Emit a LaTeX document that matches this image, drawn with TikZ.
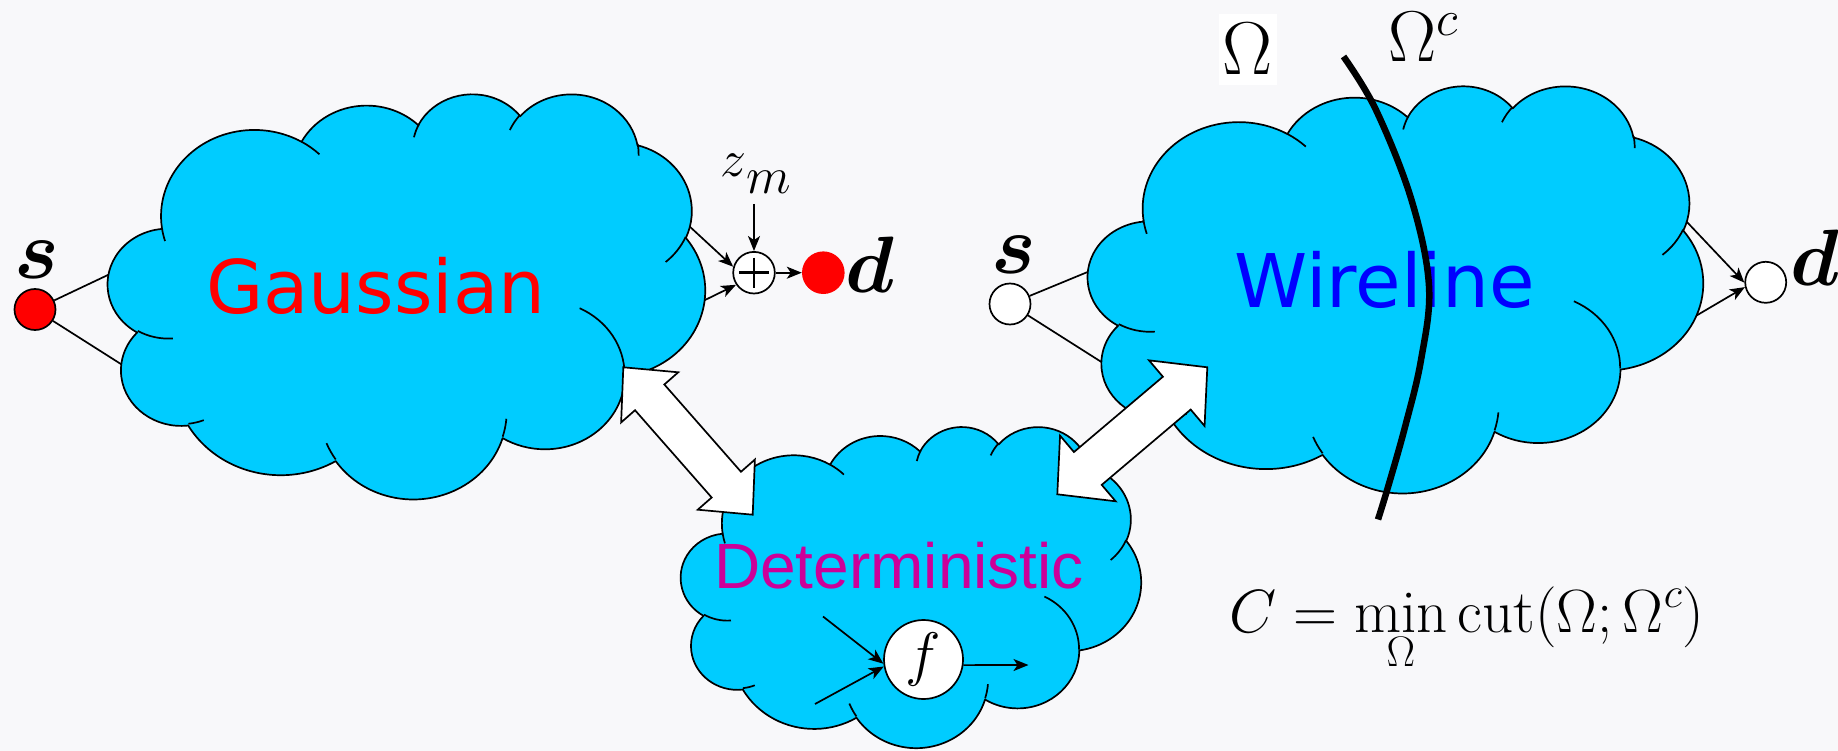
\RequirePackage{fix-cm}
\documentclass[tikz,border=0pt]{standalone}
\usepackage{amsmath}
\usepackage{fontspec}
\newfontfamily\dejavu{DejaVu Sans}
\newfontfamily\arialf{Liberation Sans}
\usetikzlibrary{arrows.meta,calc}
\definecolor{bgc}{RGB}{248,248,250}
\definecolor{cloudc}{RGB}{0,204,255}
\definecolor{magc}{RGB}{204,0,153}
% visual angle -> parametric angle of an ellipse (DrawingML arcTo convention)
\newcommand\cldang[4]{%
  \pgfmathparse{atan2((#1)*sin(#3),(#2)*cos(#3))-(#3)}\let\cldtmp\pgfmathresult
  \pgfmathparse{(#3)+atan2(sin(\cldtmp),cos(\cldtmp))}\global\let#4\pgfmathresult}
\newcommand\cldarc[4]{\pgfextra{\cldang{#1}{#2}{#3}\cldS\cldang{#1}{#2}{(#3)+(#4)}\cldE}
  arc[start angle=\cldS, end angle=\cldE, x radius=#1, y radius=#2]}
\newcommand\cloudoutline{(39.00,143.70)
 \cldarc{67.53}{91.90}{-190.4875}{123.7805}
 \cldarc{53.33}{72.67}{-144.1024}{89.9452}
 \cldarc{43.65}{59.45}{-145.8079}{99.7230}
 \cldarc{48.57}{65.95}{-130.9861}{117.2417}
 \cldarc{53.33}{72.73}{-78.7089}{109.0269}
 \cldarc{67.75}{92.20}{-46.2673}{130.2690}
 \cldarc{57.85}{78.67}{0.6250}{114.0333}
 \cldarc{67.52}{92.15}{22.4516}{115.1726}
 \cldarc{77.20}{105.43}{66.2426}{75.7110}
 \cldarc{43.60}{59.18}{-274.9421}{146.7356}
 \cldarc{43.45}{59.45}{-246.8285}{152.5189}
 -- cycle}
\newcommand\cloudinner{%
 (46.93,261.77) \cldarc{43.45}{59.45}{86.7420}{26.4295}
 (69.28,348.99) \cldarc{43.60}{59.18}{73.6105}{11.4475}
 (164.78,390.90) \cldarc{67.52}{92.15}{137.6242}{14.0811}
 (288.27,347.51) \cldarc{67.52}{92.15}{6.4533}{15.9984}
 (341.29,229.54) \cldarc{57.85}{78.67}{-70.2924}{70.9174}
 (417.98,153.54) \cldarc{53.33}{72.73}{30.3180}{27.7515}
 (383.24,54.26) \cldarc{48.57}{65.95}{-13.7443}{14.8589}
 (290.78,39.52) \cldarc{48.57}{65.95}{-149.1815}{18.1954}
 (221.41,47.20) \cldarc{43.65}{59.45}{-163.4943}{17.6864}
 (140.00,51.92) \cldarc{67.53}{91.90}{-66.7070}{12.3194}
 (41.27,157.89) \cldarc{67.53}{91.90}{157.6544}{11.8582}}
\begin{document}
\begin{tikzpicture}[x=1pt,y=-1pt,
  cloudshape/.style={fill=cloudc,draw=black,line width=1.7pt,line join=round},
  cloudinner/.style={draw=black,line width=1.7pt},
  dot/.style={circle,draw=black,line width=1.7pt,minimum size=41pt,inner sep=0pt},
  conn/.style={draw=black,line width=1.7pt},
  arr/.style={conn,-{Stealth[length=15pt,width=12pt,inset=4pt]}},
  blockarrow/.style={fill=white,draw=black,line width=1.7pt,line join=miter},
  cutline/.style={draw=black,line width=6.5pt},
  mathlab/.style={inner sep=0pt,anchor=base},
  ]
\path[fill=bgc] (0,0) rectangle (1838,751);
\useasboundingbox (0,0) rectangle (1838,751);

% ---------- Gaussian side connectors ----------
\node[dot,fill=red] (gs) at (35,309.5) {};
\node[mathlab,font=\fontsize{84}{90}\selectfont] (gsl) at (37,279) {$\boldsymbol{s}$};
\coordinate (ge1) at (110,274);
\coordinate (ge2) at (124,366);
\draw[conn] (gs) -- (ge1);
\draw[conn] (gs) -- (ge2);
\node[circle,draw=black,fill=white,line width=1.7pt,minimum size=41.6pt,inner sep=0pt] (op) at (754,272.7) {};
\draw[line width=2.6pt] ($(op.center)+(-15,0)$) -- ($(op.center)+(15,0)$)
  ($(op.center)+(0,-15)$) -- ($(op.center)+(0,15)$);
\node[circle,fill=red,minimum size=42.6pt,inner sep=0pt] (gd) at (823.3,272.7) {};
\node[mathlab,font=\fontsize{80}{90}\selectfont] (gdl) at (869.5,292) {$\boldsymbol{d}$};
\node[inner sep=0pt,anchor=base west,font=\fontsize{52}{60}\selectfont] (zm) at (720.5,176.7) {$z\lower16.6pt\hbox{$m$}$};
\coordinate (zmt) at (754,204);
\draw[arr] (zmt) -- (op);
\coordinate (ga1) at (688,225);
\coordinate (ga2) at (703,301);
\draw[arr] (ga1) -- (op.164);
\draw[arr] (ga2) -- (op.214);
\draw[arr] (op) -- (gd);

% ---------- Wireline side connectors ----------
\node[dot,fill=white] (ws) at (1010,304) {};
\node[mathlab,font=\fontsize{84}{90}\selectfont] (wsl) at (1014,273) {$\boldsymbol{s}$};
\coordinate (we1) at (1090,271);
\coordinate (we2) at (1103,363);
\draw[conn] (ws) -- (we1);
\draw[conn] (ws) -- (we2);
\node[dot,fill=white] (wd) at (1765.7,282.3) {};
\node[mathlab,font=\fontsize{80}{90}\selectfont] (wdl) at (1815,286) {$\boldsymbol{d}$};
\coordinate (wa1) at (1686,221);
\coordinate (wa2) at (1694,317);
\draw[arr] (wa1) -- (wd.181);
\draw[arr] (wa2) -- (wd.193);

% ---------- clouds ----------
\begin{scope}[shift={(108,93)},xscale=1.38194,yscale=0.9375]
  \path[cloudshape] \cloudoutline;
  \path[cloudinner] \cloudinner;
\end{scope}
\begin{scope}[shift={(1088,85)},xscale=1.42361,yscale=0.94213]
  \path[cloudshape] \cloudoutline;
  \path[cloudinner] \cloudinner;
\end{scope}
\begin{scope}[shift={(681,426)},xscale=1.06481,yscale=0.74306]
  \path[cloudshape] \cloudoutline;
  \path[cloudinner] \cloudinner;
\end{scope}

% ---------- cloud texts ----------
\node[inner sep=0pt,anchor=base,text=red,font=\dejavu\fontsize{74}{80}\selectfont] (gt) at (376,313) {Gaussian};
\node[inner sep=0pt,anchor=base,text=blue,font=\dejavu\fontsize{74}{80}\selectfont] (wt) at (1384.5,307) {Wireline};
\node[inner sep=0pt,anchor=base,text=magc,font=\arialf\fontsize{64}{70}\selectfont] (dt) at (899,588.3) {Deterministic};

% ---------- function node inside Deterministic ----------
\node[circle,draw=black,fill=white,line width=1.7pt,minimum size=79pt,inner sep=0pt,font=\fontsize{60}{66}\selectfont] (f) at (923.5,659.5) {$f$};
\coordinate (fi1) at (823,616.5);
\coordinate (fi2) at (815,704);
\coordinate (fo) at (1028.5,665);
\draw[arr] (fi1) -- (f.186);
\draw[arr] (fi2) -- (f.190);
\draw[arr] (f.-8) -- (fo);

% ---------- block double arrows ----------
\coordinate (a1s) at (623.3,367.3);
\coordinate (a1e) at (752.7,514.7);
\coordinate (a1h) at ($(a1s)!40pt!(a1e)$);
\coordinate (a1t) at ($(a1e)!40pt!(a1s)$);
\path[blockarrow] (a1s) -- ($(a1h)!38pt!90:(a1e)$) -- ($(a1h)!19.5pt!90:(a1e)$)
  -- ($(a1t)!19.5pt!-90:(a1s)$) -- ($(a1t)!38pt!-90:(a1s)$) -- (a1e)
  -- ($(a1t)!38pt!90:(a1s)$) -- ($(a1t)!19.5pt!90:(a1s)$)
  -- ($(a1h)!19.5pt!-90:(a1e)$) -- ($(a1h)!38pt!-90:(a1e)$) -- cycle;
\coordinate (a2s) at (1207.3,367.3);
\coordinate (a2e) at (1057.3,494.3);
\coordinate (a2h) at ($(a2s)!40pt!(a2e)$);
\coordinate (a2t) at ($(a2e)!40pt!(a2s)$);
\path[blockarrow] (a2s) -- ($(a2h)!43pt!90:(a2e)$) -- ($(a2h)!21.5pt!90:(a2e)$)
  -- ($(a2t)!21.5pt!-90:(a2s)$) -- ($(a2t)!43pt!-90:(a2s)$) -- (a2e)
  -- ($(a2t)!43pt!90:(a2s)$) -- ($(a2t)!21.5pt!90:(a2s)$)
  -- ($(a2h)!21.5pt!-90:(a2e)$) -- ($(a2h)!43pt!-90:(a2e)$) -- cycle;

% ---------- cut ----------
\draw[cutline] plot[smooth,tension=0.6] coordinates {(1343.5,56.5) (1376,110) (1411.5,200) (1429,286) (1421,360) (1405,427) (1388,487) (1378,519.5)};
\node[fill=white,inner xsep=3.5pt,inner ysep=10pt,anchor=base,font=\fontsize{75}{80}\selectfont] (om) at (1248,75) {$\Omega$};
\node[inner sep=0pt,anchor=base west,font=\fontsize{72}{80}\selectfont] (omc) at (1388,61.5) {$\Omega^c$};

% ---------- formula ----------
\node[inner sep=0pt,anchor=base west,font=\fontsize{61}{66}\selectfont] (form) at (1229,632.7) {$\displaystyle C=\min_{\Omega}\mathrm{cut}(\Omega;\Omega^c)$};
\end{tikzpicture}
\end{document}
